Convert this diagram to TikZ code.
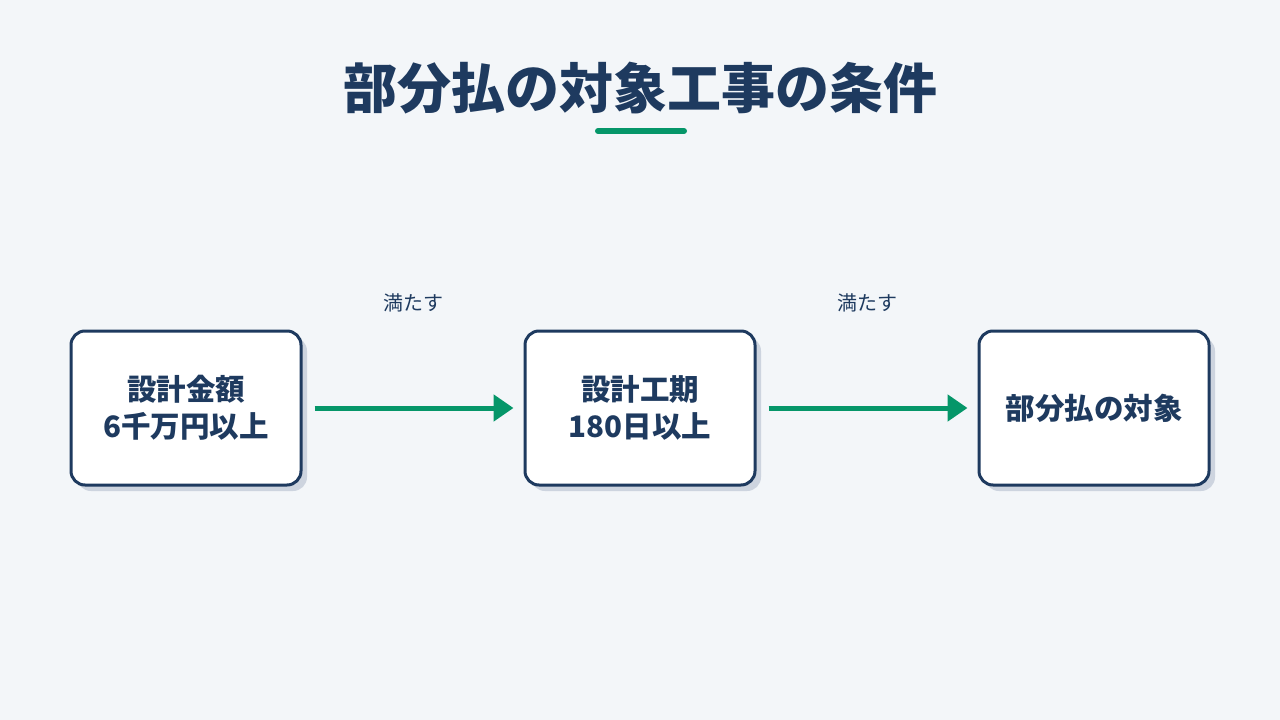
\documentclass[tikz,border=0pt]{standalone}
\usepackage{fontspec}
\setmainfont{Noto Sans CJK JP}
\usepackage{xcolor}
\usetikzlibrary{arrows.meta}
\usetikzlibrary{shadows}

\definecolor{navy}{HTML}{1E3A5F}
\definecolor{bgpaper}{HTML}{F3F6F9}
\definecolor{shade}{HTML}{CDD4DF}
\definecolor{leaf}{HTML}{059669}

\begin{document}
\begin{tikzpicture}[x=1pt,y=-1pt,
  condbox/.style={draw=navy,line width=3pt,fill=white,rounded corners=14pt,
    minimum width=230pt,minimum height=154pt,align=center,text=navy,
    font=\fontsize{29.5}{37}\selectfont\bfseries,
    drop shadow={shadow xshift=6pt,shadow yshift=-6pt,fill=shade,opacity=1}},
  flow/.style={draw=leaf,line width=5pt,-{Triangle[length=20pt,width=26pt]},
    shorten <=12pt,shorten >=10pt},
  tag/.style={text=navy,font=\fontsize{20}{22}\selectfont}]
  \fill[bgpaper] (0,0) rectangle (1280,720);
  \node[text=navy,font=\fontsize{54}{60}\selectfont\bfseries] (title) at (640,88) {部分払の対象工事の条件};
  \draw[leaf,line width=6pt,line cap=round] (598,131) -- (684,131);

  \node[condbox] (amount) at (186,408) {設計金額\\6千万円以上};
  \node[condbox] (period) at (640,408) {設計工期\\180日以上};
  \node[condbox] (target) at (1094,408) {部分払の対象};

  \draw[flow] (amount.east) -- node[tag,yshift=105pt] (m1) {満たす} (period.west);
  \draw[flow] (period.east) -- node[tag,yshift=105pt] (m2) {満たす} (target.west);
\end{tikzpicture}
\end{document}
